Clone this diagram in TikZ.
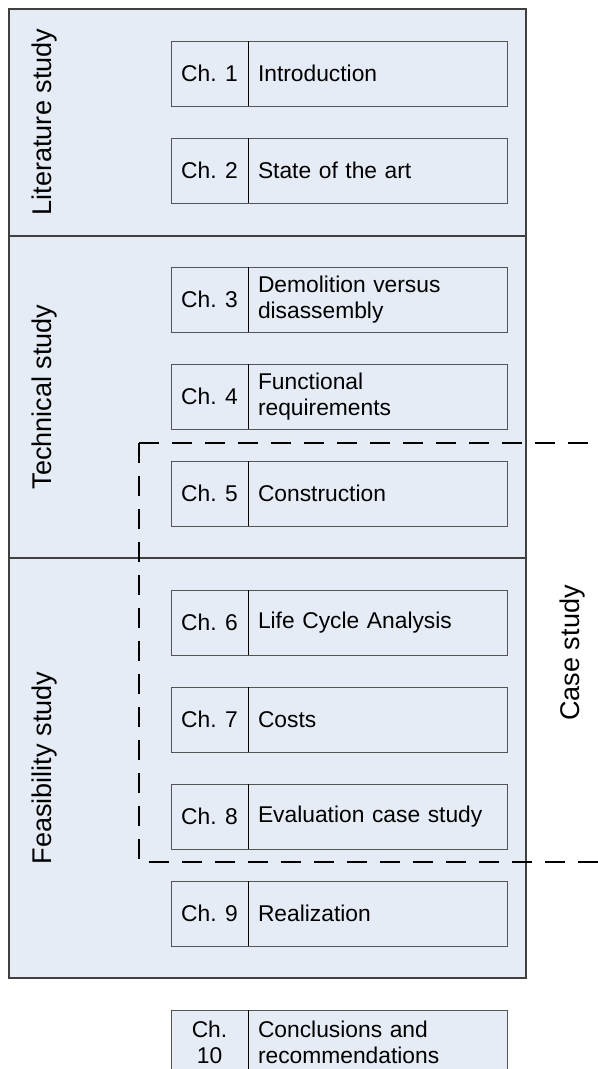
\documentclass[tikz,border=0pt]{standalone}
\usepackage{fontspec}
\setmainfont{Liberation Sans}
\usetikzlibrary{positioning}
\definecolor{panelfill}{RGB}{230,236,246}
\definecolor{panelline}{RGB}{64,64,64}
\definecolor{cellline}{RGB}{85,85,85}
\newcommand{\chfont}{\fontsize{17.1pt}{19.5pt}\selectfont}
\newcommand{\labfont}{\fontsize{20.3pt}{24pt}\selectfont}

\begin{document}
\begin{tikzpicture}[
  x=0.75pt, y=-0.75pt,
  node distance=24pt and 0pt,
  panel/.style={draw=panelline,fill=panelfill,line width=0.8pt,anchor=north west,
    minimum width=387.75pt,inner sep=0pt,outer sep=0pt},
  sidelabel/.style={rotate=90,font=\labfont,inner sep=0pt},
  chnum/.style={draw=cellline,fill=panelfill,line width=0.7pt,minimum width=57.75pt,
    minimum height=48.75pt,inner sep=0pt,outer sep=0pt,align=center,font=\chfont},
  chtitle/.style={draw=cellline,fill=panelfill,line width=0.7pt,text width=179.25pt,
    minimum height=48.75pt,inner xsep=7.5pt,inner ysep=0pt,outer sep=0pt,
    align=left,font=\chfont},
  divline/.style={line width=0.7pt,black},
  casedash/.style={line width=2.2pt,dash pattern=on 15pt off 9.75pt}
]
\useasboundingbox (0,0) rectangle (598,1069);

% study panels
\node[panel,minimum height=170.25pt] (lit) at (9,9) {};
\node[panel,minimum height=241.5pt] (tech) at (9,236) {};
\node[panel,minimum height=315pt] (feas) at (9,558) {};

\node[sidelabel] (litlab) at (45,122) {Literature study};
\node[sidelabel] (techlab) at (45,397) {Technical study};
\node[sidelabel] (feaslab) at (45,768) {Feasibility study};

% chapters
\node[chnum,anchor=north west] (n1) at (171,41) {Ch. 1};
\node[chtitle,right=0pt of n1] (t1) {Introduction};
\node[chnum,below=of n1] (n2) {Ch. 2};
\node[chtitle,right=0pt of n2] (t2) {State of the art};

\node[chnum,below=48pt of n2] (n3) {Ch. 3};
\node[chtitle,right=0pt of n3] (t3) {Demolition versus\\disassembly};
\node[chnum,below=of n3] (n4) {Ch. 4};
\node[chtitle,right=0pt of n4] (t4) {Functional\\requirements};
\node[chnum,below=of n4] (n5) {Ch. 5};
\node[chtitle,right=0pt of n5] (t5) {Construction};

\node[chnum,below=48pt of n5] (n6) {Ch. 6};
\node[chtitle,right=0pt of n6] (t6) {Life Cycle Analysis};
\node[chnum,below=of n6] (n7) {Ch. 7};
\node[chtitle,right=0pt of n7] (t7) {Costs};
\node[chnum,below=of n7] (n8) {Ch. 8};
\node[chtitle,right=0pt of n8] (t8) {Evaluation case study};
\node[chnum,below=of n8] (n9) {Ch. 9};
\node[chtitle,right=0pt of n9] (t9) {Realization};

\node[chnum,below=48pt of n9] (n10) {Ch.\\10};
\node[chtitle,right=0pt of n10] (t10) {Conclusions and\\recommendations};

\foreach \i in {1,...,10}
  \draw[divline] (n\i.north east) -- (n\i.south east);

% case study frame
\coordinate (cstl) at (139,443);
\coordinate (cstr) at (600,443);
\coordinate (csbl) at (139,862);
\coordinate (csbr) at (600,862);
\draw[casedash] (cstl) -- (cstr);
\draw[casedash] (cstl) -- (csbl) -- (csbr);
\node[sidelabel] (caselab) at (572,653) {Case study};

\end{tikzpicture}
\end{document}
